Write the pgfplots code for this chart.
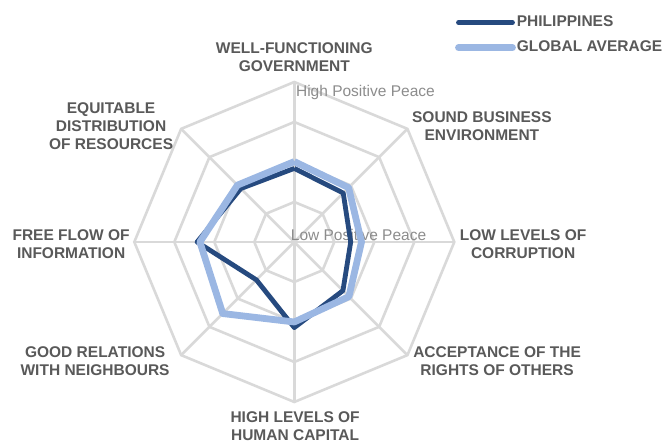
\documentclass[border=0pt]{standalone}
\usepackage{fontspec}
\setmainfont{Liberation Sans}
\usepackage{pgfplots}
\pgfplotsset{compat=1.18}
\definecolor{phil}{HTML}{264A7F}
\definecolor{glob}{HTML}{9BB7E3}
\definecolor{gridc}{HTML}{D9D9D9}
\definecolor{labc}{HTML}{595959}
\definecolor{peacec}{HTML}{8C8C8C}

\begin{document}
\begin{tikzpicture}
\begin{axis}[
    width=665pt, height=444pt, scale only axis,
    xmin=-7.3575, xmax=9.2675, ymin=-5.05, ymax=6.05,
    hide axis, clip=false,
    data cs=polar,
    legend style={at={(axis cs:4.02,5.17)}, anchor=west, draw=none, fill=none,
        inner sep=0pt, outer sep=0pt, row sep=9pt, column sep=0pt,
        nodes={inner sep=1pt, text height=11pt, text depth=3pt},
        font=\fontsize{15.5}{18}\selectfont\bfseries, text=labc},
    legend cell align=left,
    legend image code/.code={\draw[#1, line cap=round] (0pt,0pt) -- (54pt,0pt);},
]
% grid rings
\pgfplotsinvokeforeach{1,2,3,4}{
\addplot[gridc, line width=2.6pt, line join=miter, forget plot] coordinates {
    (90,#1) (45,#1) (0,#1) (-45,#1) (-90,#1) (-135,#1) (180,#1) (135,#1) (90,#1) (45,#1)
};
}
% spokes
\pgfplotsinvokeforeach{0,45,90,135,180,225,270,315}{
\addplot[gridc, line width=2.6pt, forget plot] coordinates {(#1,0) (#1,4)};
}
\node[anchor=west, inner sep=0pt, text=peacec, font=\fontsize{15.5}{18}\selectfont] at (axis cs:-0.09,0.175) {Low Positive Peace};
\node[anchor=west, inner sep=0pt, text=peacec, font=\fontsize{15.5}{18}\selectfont] at (axis cs:0.04,3.725) {High Positive Peace};

\addplot[phil, line width=4.8pt, line join=round] coordinates {
    (90,1.84) (45,1.73) (0,1.41) (-45,1.72) (-90,2.14) (-135,1.34) (180,2.43) (135,1.89) (90,1.84)
};
\addlegendentry{PHILIPPINES}
\addplot[glob, line width=6.8pt, line join=round] coordinates {
    (90,2.01) (45,1.92) (0,1.68) (-45,1.93) (-90,2.00) (-135,2.53) (180,2.36) (135,2.01) (90,2.01)
};
\addlegendentry{GLOBAL AVERAGE}

\tikzset{lab/.style={align=center, inner sep=0pt, text=labc, font=\fontsize{15.5}{18}\selectfont\bfseries}}
\node[lab] at (axis cs:0,4.61) {WELL-FUNCTIONING\\GOVERNMENT};
\node[lab] at (axis cs:4.69,2.90) {SOUND BUSINESS\\ENVIRONMENT};
\node[lab] at (axis cs:5.72,-0.05) {LOW LEVELS OF\\CORRUPTION};
\node[lab] at (axis cs:5.07,-2.975) {ACCEPTANCE OF THE\\RIGHTS OF OTHERS};
\node[lab] at (axis cs:0.02,-4.60) {HIGH LEVELS OF\\HUMAN CAPITAL};
\node[lab] at (axis cs:-4.98,-2.975) {GOOD RELATIONS\\WITH NEIGHBOURS};
\node[lab] at (axis cs:-5.58,-0.05) {FREE FLOW OF\\INFORMATION};
\node[lab] at (axis cs:-4.58,2.90) {EQUITABLE\\DISTRIBUTION\\OF RESOURCES};
\path (rel axis cs:0,0) rectangle (rel axis cs:1,1);
\end{axis}
\end{tikzpicture}
\end{document}
